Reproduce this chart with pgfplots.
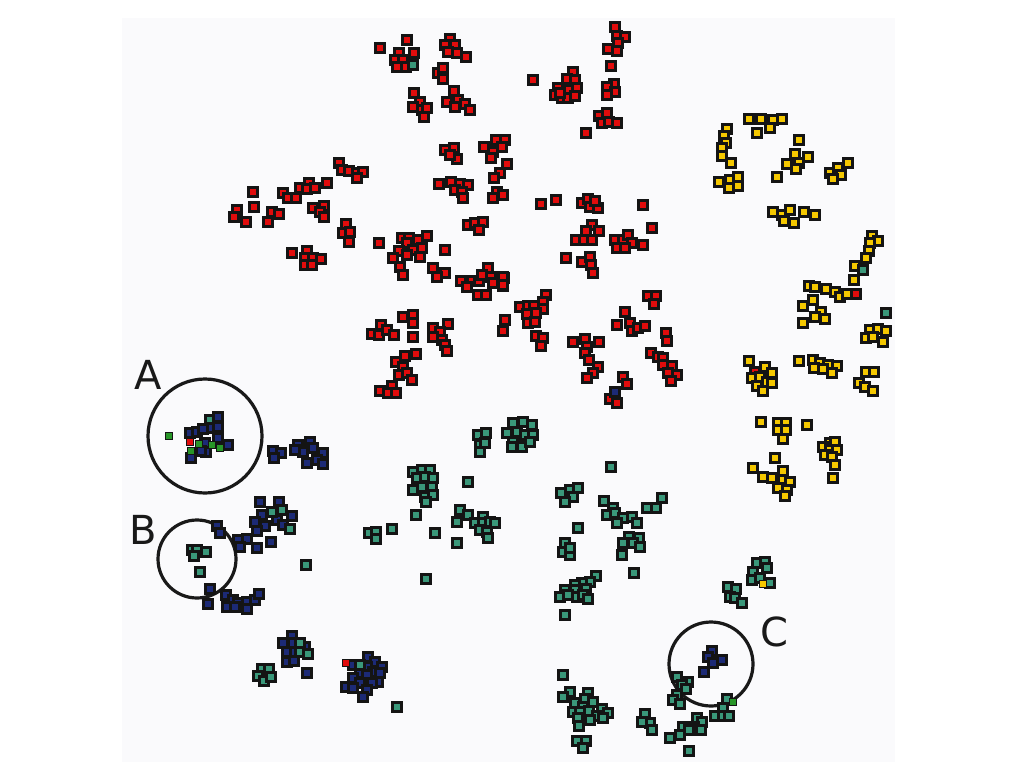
\documentclass[border=0pt]{standalone}
\usepackage{pgfplots}
\pgfplotsset{compat=1.18}
\usepackage{fontspec}
\setmainfont{DejaVu Sans}
\definecolor{bgc}{RGB}{250,250,252}
\definecolor{cred}{RGB}{225,12,12}
\definecolor{cyel}{RGB}{245,200,0}
\definecolor{cteal}{RGB}{58,152,122}
\definecolor{cnavy}{RGB}{28,42,118}
\definecolor{cgreen}{RGB}{40,150,40}
\pgfplotsset{
  sq/.style={only marks, mark=square*, mark size=4.7pt,
     mark options={fill=#1, line width=2.5pt, draw=black!92}},
  sqs/.style={only marks, mark=square*, mark size=3.5pt,
     mark options={fill=#1, line width=1.4pt, draw=black!92}},
}
\begin{document}
\begin{tikzpicture}
\begin{axis}[
  width=1024pt, height=768pt, scale only axis,
  xmin=0, xmax=1024, ymin=0, ymax=768, y dir=reverse,
  hide axis, clip=false,
]
\fill[white] (axis cs:0,0) rectangle (axis cs:1024,768);
\fill[bgc] (axis cs:122,18) rectangle (axis cs:895,762);
% red
\addplot[sq=cred] coordinates {
(380,48)(407,40)(414,53)(399,53)(395,60)(403,60)(397,67)(406,67)
(450,39)(445,45)(455,45)(448,52)(457,53)(466,57)
(438,73)(443,68)(443,79)
(414,93)(420,102)(413,107)(422,110)(427,108)(424,117)
(454,91)(447,102)(458,100)(455,107)(465,104)(470,110)
(445,150)(454,148)(457,159)(450,155)
(484,147)(496,140)(505,140)(493,152)(502,147)(491,158)
(507,164)(500,173)(494,178)
(439,184)(451,182)(460,184)(468,185)(455,190)(462,192)(463,198)
(497,192)(503,195)(493,198)
(468,225)(475,223)(483,222)(479,230)
(339,163)(342,170)(349,171)(357,173)(363,172)(357,178)
(253,192)(283,193)(288,198)(296,198)(300,188)(309,183)(307,189)(315,188)(327,183)
(254,207)(237,210)(234,217)(246,222)(272,212)(279,214)(268,222)
(313,208)(324,206)(320,212)(324,217)
(346,224)(343,233)(350,232)(349,242)
(292,253)(307,251)(305,258)(313,258)(321,259)(305,265)(312,265)
(379,243)(402,238)(409,238)(418,240)(427,236)(407,243)(399,251)(413,250)(422,248)(420,257)(393,258)(445,250)(407,255)
(615,27)(617,36)(625,37)(618,43)(608,49)(617,51)
(611,66)(533,80)
(573,72)(567,79)(575,80)(558,88)(568,90)(577,88)(555,95)(562,98)(568,98)(575,96)(560,93)
(614,84)(607,87)(615,92)(607,95)
(599,116)(607,113)(602,123)(609,122)(617,123)
(586,133)
(541,204)(556,200)(582,203)(588,199)(590,207)(598,208)(595,201)
(643,205)(652,228)
(592,225)(586,231)(599,231)(576,240)(584,240)(592,240)
(615,240)(623,240)(628,235)(632,243)(617,248)(625,248)(643,245)
(566,258)(582,262)(590,257)(591,265)(593,273)
(504,278)(503,286)
(505,320)(503,331)
(546,295)(543,302)(520,307)(528,306)(534,306)(543,309)(527,314)(536,313)(528,323)(535,322)(536,336)(543,338)(541,346)
(648,296)(656,296)(654,304)
(625,312)(617,325)(630,323)(632,331)(638,328)(645,326)
(666,333)(667,341)
(573,342)(585,339)(599,342)(587,347)(585,353)(589,360)(598,367)(593,373)(587,378)
(651,353)(658,357)(663,358)(663,365)(672,366)(668,373)(677,375)(671,381)
(623,377)(627,384)(610,399)(617,403)
(400,267)(403,275)
(433,268)(445,273)(437,277)
(461,281)(472,281)(479,281)(488,268)(482,275)(491,277)(493,283)(503,277)(503,285)(467,287)(478,295)(486,295)
(403,317)(413,315)(413,323)(413,337)(381,325)(372,334)(379,335)(387,330)(394,335)
(433,328)(448,324)(440,332)(433,337)(442,340)(445,345)(447,351)
(416,354)(405,356)(396,362)(403,367)(399,375)(407,373)(412,380)(392,386)(380,391)(388,393)(396,393)
(856,294)(755,372)
};
% yellow
\addplot[sq=cyel] coordinates {
(749,119)(761,119)(773,120)(782,119)(757,133)(770,128)
(727,129)(724,136)(726,143)(722,148)(722,156)(731,163)(719,182)(730,180)(738,177)(729,188)(738,186)
(799,140)(795,154)(808,157)(787,164)(799,163)(796,169)(777,177)
(830,173)(838,168)(848,163)(841,175)(833,179)
(773,212)(782,215)(790,210)(784,221)(794,223)(804,212)(815,215)
(872,236)(878,241)(870,243)(869,251)(866,258)(855,266)
(809,286)(815,287)(826,289)(835,292)(840,297)(847,294)(854,280)
(803,306)(813,300)(821,312)(815,317)(825,319)(803,323)
(870,330)(878,329)(886,331)(866,338)(873,337)(883,342)
(749,361)(765,367)(772,373)(752,378)(760,377)(767,382)(772,383)(757,386)(763,391)
(799,361)(813,360)(820,363)(828,365)(837,366)(814,368)(823,369)(832,373)
(866,372)(874,372)(859,383)(865,387)(873,391)
(761,422)(778,423)(786,423)(778,430)(786,430)(783,439)(807,425)
(830,443)(835,442)(823,447)(830,450)(837,450)(825,455)(832,457)(835,465)(833,478)
(775,458)(753,468)(763,477)(772,478)(783,471)(783,480)(790,482)(778,488)(787,490)(785,496)
};
% teal
\addplot[sq=cteal] coordinates {
(413,65)(863,270)(886,313)
(513,423)(523,422)(532,425)(507,433)(517,432)(525,435)(533,435)(513,442)(522,447)(530,442)(512,447)
(611,467)
(561,493)(570,490)(578,488)(573,497)(565,502)
(604,501)(613,508)(662,498)(656,508)(647,508)
(210,420)
(478,435)(486,433)(480,445)(485,443)(480,452)
(413,472)(422,470)(430,470)(417,478)(425,477)(433,478)(413,490)(422,487)(432,487)(425,497)(433,495)
(468,482)
(192,550)(197,550)(206,552)(194,556)(200,572)
(306,565)
(262,669)(269,669)(258,676)(264,681)(271,677)
(397,707)
(369,533)(376,532)(376,539)(392,529)(416,515)(426,502)(435,533)(460,510)(468,515)(457,522)(475,523)(483,517)(483,523)(490,522)(495,523)(480,530)(487,532)(488,538)(457,543)
(426,579)
(607,515)(615,513)(623,518)(632,517)(617,523)(637,523)
(578,528)
(565,543)(563,552)(570,555)(570,548)
(629,537)(639,538)(623,543)(633,543)(640,547)(622,555)
(634,573)
(596,576)(590,582)(582,583)(575,585)(565,590)(575,590)(586,589)(560,597)(568,595)(577,597)(583,595)(588,599)
(565,615)
(757,563)(765,562)(753,572)(767,568)(752,580)(760,578)(770,583)
(728,587)(736,589)(730,597)(735,598)(742,603)
(677,677)(688,682)(682,685)(686,689)(677,695)(673,700)(680,704)
(727,699)(723,708)(715,716)(723,716)(729,716)
(697,718)(702,722)(694,727)(701,730)(683,727)(689,730)(680,735)(670,738)(689,751)
(645,714)(650,723)(642,722)(652,730)
(563,675)(570,692)(563,697)(588,693)(585,699)(593,702)(575,703)(583,707)(573,712)(580,712)(589,711)(602,709)(608,713)(597,716)(590,720)(603,718)(578,718)(579,726)(577,741)(586,741)(583,748)
};
% navy
\addplot[sq=cnavy] coordinates {
(190,433)(197,432)(203,429)(218,417)(212,428)(218,427)(205,443)(218,438)(228,445)(206,452)(191,458)(201,451)
(273,451)(281,453)(274,458)(298,445)(310,442)(303,452)(313,448)(323,453)(317,460)(307,463)(323,464)(295,450)
(260,502)(279,502)
(262,515)(292,516)(255,522)(265,526)(277,520)(283,525)(257,531)(271,542)(257,548)(247,539)(238,540)(240,547)(217,526)(220,533)
(210,589)(208,604)(226,595)(233,600)(227,607)(238,603)(247,602)(255,600)(259,594)(247,609)(235,607)
(292,636)(283,643)(293,643)(305,647)(287,652)(295,652)(287,662)(294,661)
(307,673)
(368,657)(353,665)(375,662)(382,667)(367,667)(373,672)(360,673)(353,678)(367,675)(380,673)(378,682)(372,683)(360,683)(346,687)(353,688)(367,690)(363,697)
(615,392)
(712,651)(708,657)(722,660)(713,663)(704,672)
};
% mixed ones drawn on top
\addplot[sq=cteal] coordinates {(272,512)(282,510)(290,529)(300,643)(300,652)(308,654)(360,665)};
\addplot[sqs=cgreen] coordinates {(169,436)(199,444)(212,445)(220,448)(191,451)(733,702)};
\addplot[sqs=cred] coordinates {(190,442)(346,663)};
\addplot[sqs=cyel] coordinates {(763,584)};
% circles and labels
\draw[line width=3.2pt, black!90] (axis cs:205,436) circle[radius=57pt];
\draw[line width=3.2pt, black!90] (axis cs:197,559) circle[radius=39pt];
\draw[line width=3.2pt, black!90] (axis cs:711,664) circle[radius=42pt];
\node[font=\fontsize{40}{44}\selectfont, text=black!90] at (axis cs:148,375) {A};
\node[font=\fontsize{40}{44}\selectfont, text=black!90] at (axis cs:143,530) {B};
\node[font=\fontsize{40}{44}\selectfont, text=black!90] at (axis cs:774,632) {C};
\end{axis}
\end{tikzpicture}
\end{document}
